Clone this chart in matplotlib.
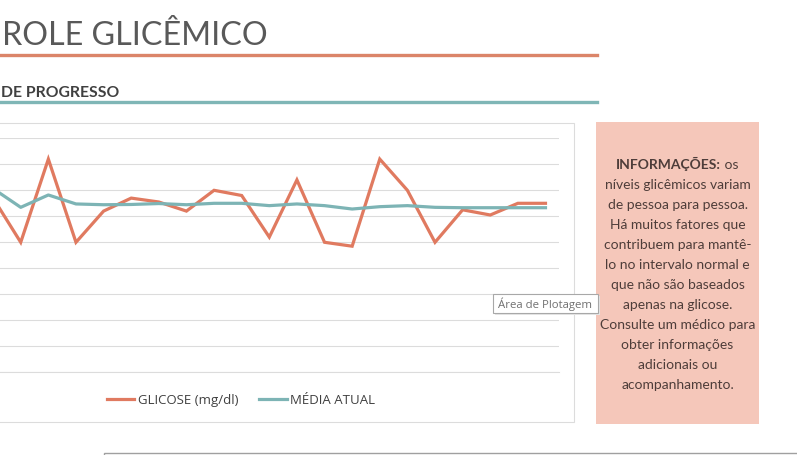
import numpy as np
import matplotlib
matplotlib.use("Agg")
import matplotlib.pyplot as plt
from matplotlib.patches import Rectangle
from matplotlib.lines import Line2D

# Leituras visíveis (o primeiro ponto fica parcialmente fora do recorte)
medicoes = list(range(21))
glicose = [134, 100, 164, 100, 124, 134, 131, 124, 140, 136, 104,
           148, 100, 97, 164, 140, 100, 125, 121, 130, 130]
media_atual = [141.3, 126.9, 136.4, 129.5, 128.9, 129.1, 129.8, 128.9, 130.0, 130.0, 128.2,
               129.5, 128.2, 125.6, 127.4, 128.2, 126.9, 126.6, 126.6, 126.6, 126.6]
y_ticks = list(range(0, 181, 20))

info_linhas = [
    "níveis glicêmicos variam",
    "de pessoa para pessoa.",
    "Há muitos fatores que",
    "contribuem para mantê-",
    "lo no intervalo normal e",
    "que não são baseados",
    "apenas na glicose.",
    "Consulte um médico para",
    "obter informações",
    "adicionais ou",
    "acompanhamento.",
]

W, H = 797, 456
COR_GLI = "#E07A60"
COR_MED = "#7DB4B5"
COR_GRADE = "#DCDCDC"
FONTE = ["Lato", "DejaVu Sans"]


def fx(px):
    return px / W


def fy(py):
    return 1 - py / H


def main():
    fig = plt.figure(figsize=(W / 100, H / 100), dpi=100)

    # moldura do gráfico
    fig.patches.append(Rectangle((fx(-5), fy(423)), fx(579.3), 299 / H, transform=fig.transFigure,
                                 fill=False, edgecolor=COR_GRADE, linewidth=0.8))

    ax = fig.add_axes([fx(-20.7), fy(373.3), fx(580), 234 / H])
    ax.plot(medicoes, glicose, color=COR_GLI, linewidth=2.3, solid_joinstyle="miter",
            label="GLICOSE (mg/dl)", zorder=3)
    ax.plot(medicoes, media_atual, color=COR_MED, linewidth=2.3,
            label="MÉDIA ATUAL", zorder=3)
    ax.set_xlim(-0.5, len(medicoes) - 0.5)
    ax.set_ylim(0, 180)
    ax.set_yticks(y_ticks)
    ax.yaxis.grid(True, color=COR_GRADE, linewidth=0.8)
    ax.axhline(0, color=COR_GRADE, linewidth=0.8, clip_on=False, zorder=1)
    ax.set_axisbelow(True)
    ax.tick_params(left=False, bottom=False, labelleft=False, labelbottom=False)
    for s in ax.spines.values():
        s.set_visible(False)

    leg = fig.legend(loc="center", bbox_to_anchor=(fx(241), fy(401)), ncol=2, frameon=False,
                     handlelength=2.1, handletextpad=0.25, columnspacing=1.6,
                     prop={"family": ["Open Sans", "DejaVu Sans"], "size": 9.5})
    for t in leg.get_texts():
        t.set_color("#404040")

    # títulos
    fig.text(fx(2), fy(45), "ROLE GLICÊMICO", family=FONTE, fontsize=23.2,
             color="#595959", va="baseline", ha="left")
    fig.add_artist(Line2D([0, fx(597)], [fy(56), fy(56)], color="#DB8569", linewidth=2.4))
    fig.text(fx(1), fy(97), "DE PROGRESSO", family=FONTE, fontsize=11.3, fontweight="bold",
             color="#404040", va="baseline", ha="left")
    fig.add_artist(Line2D([0, fx(597)], [fy(103), fy(103)], color="#7FB6B6", linewidth=2.4))

    # caixa de informações
    fig.patches.append(Rectangle((fx(596), fy(425)), fx(163), 301.7 / H, transform=fig.transFigure,
                                 facecolor="#F5C7BA", edgecolor="none"))
    cx = 677.5
    cor_info = "#4E3D3A"
    r = fig.canvas.get_renderer()
    t1 = fig.text(0, fy(169), "INFORMAÇÕES:", family=FONTE, fontsize=10, fontweight="bold",
                  color=cor_info, va="baseline", ha="left")
    t2 = fig.text(0, fy(169), " os", family=FONTE, fontsize=10,
                  color=cor_info, va="baseline", ha="left")
    w1 = t1.get_window_extent(r).width
    w2 = t2.get_window_extent(r).width
    x0 = cx - (w1 + w2) / 2
    t1.set_x(fx(x0))
    t2.set_x(fx(x0 + w1))
    for i, linha in enumerate(info_linhas):
        fig.text(fx(cx), fy(189 + 20 * i), linha, family=FONTE, fontsize=10,
                 color=cor_info, va="baseline", ha="center")

    # dica "Área de Plotagem"
    fig.patches.append(Rectangle((fx(495), fy(316)), fx(105), 19.3 / H, transform=fig.transFigure,
                                 facecolor="#E6E6E6", edgecolor="none"))
    fig.patches.append(Rectangle((fx(493.3), fy(314.3)), fx(105), 19.3 / H, transform=fig.transFigure,
                                 facecolor="white", edgecolor="#A8A8A8", linewidth=0.8))
    fig.text(fx(498), fy(304.6), "Área de Plotagem", family=["Open Sans", "DejaVu Sans"],
             fontsize=8.2, color="#707070", va="center", ha="left")

    # célula/caixa inferior
    fig.patches.append(Rectangle((fx(104.3), fy(460)), fx(700), 6 / H, transform=fig.transFigure,
                                 facecolor="white", edgecolor="#A0A0A0", linewidth=1.0))

    fig.savefig("out.png", dpi=100)


if __name__ == "__main__":
    main()
